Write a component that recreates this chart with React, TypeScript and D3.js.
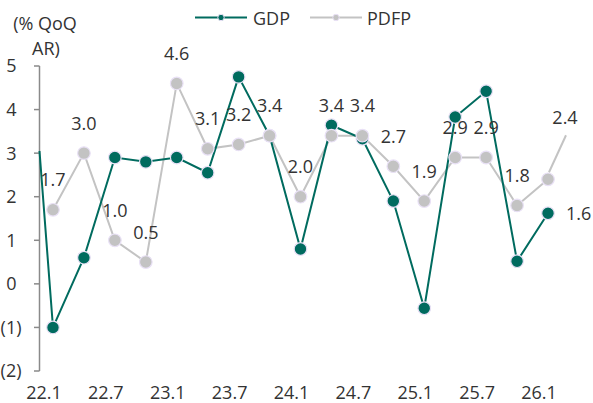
import React from "react";
import * as d3 from "d3";

const gdp = [-1.0, 0.6, 2.9, 2.8, 2.9, 2.55, 4.75, 3.4, 0.8, 3.64, 3.33, 1.9, -0.56, 3.83, 4.42, 0.52, 1.62];
const pdfp = [1.7, 3.0, 1.0, 0.5, 4.6, 3.1, 3.2, 3.4, 2.0, 3.4, 3.4, 2.7, 1.9, 2.9, 2.9, 1.8, 2.4];
const gdpAxisStart = 3.05;
const xLabels = ["22.1", "22.7", "23.1", "23.7", "24.1", "24.7", "25.1", "25.7", "26.1"];
const yTicks = [-2, -1, 0, 1, 2, 3, 4, 5];
const seriesNames = ["GDP", "PDFP"];

const TEAL = "#006b5f";
const GRAY = "#c3c3c3";
const RING = "#e9e1f6";
const TEXT = "#333333";
const AXIS = "#8a8a8a";
const FONT = "'Open Sans', 'Noto Sans', sans-serif";

export default function App() {
  const W = 593, H = 403;
  const axisX = 39.5;
  const x = d3.scaleLinear().domain([-0.436, 16]).range([axisX, 548]);
  const y = d3.scaleLinear().domain([-2, 5]).range([371, 66]);

  const gdpPts: [number, number][] = [[axisX, y(gdpAxisStart)], ...gdp.map((v, i) => [x(i), y(v)] as [number, number])];
  const pdfpPts: [number, number][] = pdfp.map((v, i) => [x(i), y(v)]);
  const line = d3.line();

  const fmtTick = (v: number) => (v < 0 ? `(${Math.abs(v)})` : `${v}`);
  const last = pdfp.length - 1;

  return (
    <svg width={W} height={H} style={{ position: "absolute", left: 0, top: 0, fontFamily: FONT }}>
      <rect width={W} height={H} fill="#ffffff" />
      {/* y-axis title */}
      <text x={45} y={30} fontSize={18} fill={TEXT} textAnchor="middle">(% QoQ</text>
      <text x={46} y={55} fontSize={18} fill={TEXT} textAnchor="middle">AR)</text>

      {/* legend */}
      <g>
        <line x1={195} x2={247} y1={17.5} y2={17.5} stroke={TEAL} strokeWidth={2} />
        <circle cx={221} cy={17.5} r={3.2} fill={TEAL} stroke={RING} strokeWidth={1} />
        <text x={253} y={25} fontSize={18} fill={TEXT}>{seriesNames[0]}</text>
        <line x1={310} x2={362} y1={17.5} y2={17.5} stroke={GRAY} strokeWidth={2} />
        <circle cx={336} cy={17.5} r={3.2} fill={GRAY} stroke={RING} strokeWidth={1} />
        <text x={367} y={25} fontSize={18} fill={TEXT}>{seriesNames[1]}</text>
      </g>

      {/* y axis */}
      <line x1={axisX} x2={axisX} y1={y(5)} y2={y(-2)} stroke={AXIS} strokeWidth={1.5} />
      {yTicks.map((t) => (
        <g key={t}>
          <line x1={34} x2={axisX} y1={y(t)} y2={y(t)} stroke={AXIS} strokeWidth={1.5} />
          <text x={t < 0 ? 21.5 : 16.5} y={y(t)} dy="0.36em" fontSize={18} fill={TEXT} textAnchor="end">
            {fmtTick(t)}
          </text>
        </g>
      ))}

      {/* x labels */}
      {xLabels.map((l, j) => (
        <text key={l} x={x(2 * j) - 9} y={399} fontSize={18} fill={TEXT} textAnchor="middle">{l}</text>
      ))}

      {/* lines */}
      <path d={line(pdfpPts) || ""} fill="none" stroke={GRAY} strokeWidth={2} />
      <path d={line(gdpPts) || ""} fill="none" stroke={TEAL} strokeWidth={2} />

      {/* markers */}
      {gdp.map((v, i) => (
        <circle key={"g" + i} cx={x(i)} cy={y(v)} r={6.3} fill={TEAL} stroke={RING} strokeWidth={1.2} />
      ))}
      {pdfp.map((v, i) => (
        <circle key={"p" + i} cx={x(i)} cy={y(v)} r={6.3} fill={GRAY} stroke={RING} strokeWidth={1.2} />
      ))}

      {/* leader line for last PDFP label */}
      <line x1={x(last) + 18} y1={y(pdfp[last]) - 44} x2={x(last) + 1} y2={y(pdfp[last]) - 7} stroke={GRAY} strokeWidth={2} />

      {/* PDFP labels */}
      {pdfp.map((v, i) => (
        <text
          key={"pl" + i}
          x={i === last ? x(i) + 17 : x(i)}
          y={i === last ? y(v) - 55 : y(v) - 23.5}
          fontSize={18}
          fill={TEXT}
          textAnchor="middle"
        >
          {v.toFixed(1)}
        </text>
      ))}

      {/* GDP last label */}
      <text x={x(last) + 18} y={y(gdp[last])} dy="0.36em" fontSize={18} fill={TEXT}>
        {gdp[last].toFixed(1)}
      </text>
    </svg>
  );
}
